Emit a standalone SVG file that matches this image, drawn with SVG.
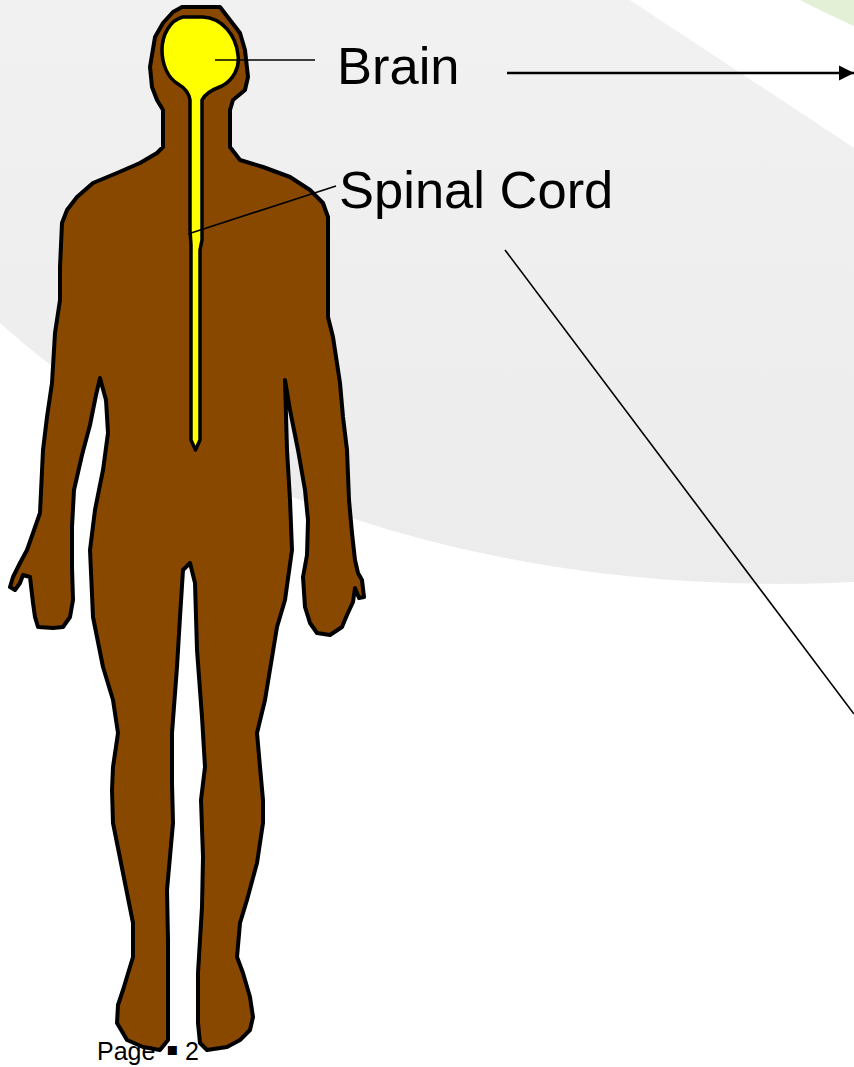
<svg xmlns="http://www.w3.org/2000/svg" width="854" height="1067" viewBox="0 0 854 1067">
  <style>
    .label { font-family: "Liberation Sans", Arial, sans-serif; font-size: 52.5px; fill: #000; }
    .page { font-family: "Liberation Sans", "DejaVu Sans", Arial, sans-serif; font-size: 25px; fill: #000; }
    .lead { stroke: #000; stroke-width: 1.6; fill: none; }
    .outline { stroke: #000; stroke-width: 4; stroke-linejoin: round; }
  </style>
  <defs>
    <linearGradient id="swooshFill" x1="0" y1="0" x2="0" y2="1">
      <stop offset="0" stop-color="#f1f1f1"/>
      <stop offset="1" stop-color="#ececec"/>
    </linearGradient>
    <marker id="arrowHead" viewBox="0 0 10 10" refX="10" refY="5" markerUnits="userSpaceOnUse" markerWidth="15" markerHeight="16" orient="auto">
      <path d="M0,0 L10,5 L0,10 Z" fill="#000"/>
    </marker>
  </defs>

  <!-- slide background -->
  <g id="background">
    <rect width="854" height="1067" fill="#ffffff"/>
    <path d="M0,0 L630,0 C690,40 790,105 854,148 L854,582 C450,602 150,460 0,323 Z" fill="url(#swooshFill)"/>
    <path d="M800,0 L854,0 L854,26 C835,17 815,8 800,0 Z" fill="#e3f0d6"/>
  </g>

  <!-- body silhouette -->
  <g id="body">
    <path class="outline" fill="#884800" d="
      M182,7 L220,7 L230,20 L240,33 L245,50 L248,77 L245,90 L233,100 L230,110 L230,147
      L240,160 L263,167 L290,177 L310,190 L323,203 L328,217 L328,317 L333,337 L340,383
      L343,417 L347,450 L349,500 L352,533 L355,560 L358,573 L362,580 L364,597 L359,598
      L355,588 L353,602 L347,615 L342,627 L330,635 L317,633 L310,623 L305,607 L303,577
      L307,555 L308,520 L305,490 L298,450 L290,410 L285,380
      L287,450 L290,500 L292,550 L285,600 L277,627 L265,700 L257,733 L260,767 L263,800
      L263,823 L257,863 L247,900 L240,923 L237,957 L243,973 L250,997 L253,1017 L250,1030
      L240,1040 L227,1047 L207,1050 L200,1043 L198,1023 L198,973 L200,940 L202,907
      L203,857 L201,800 L205,767 L202,717 L197,650 L195,583 L190,563
      L183,570 L180,617 L177,667 L172,733 L172,783 L173,823 L167,890 L168,940 L168,990
      L168,1040 L160,1050 L143,1047 L127,1040 L117,1023 L118,1005 L123,990 L133,957
      L133,923 L123,873 L113,823 L112,790 L113,767 L118,733 L113,700 L103,667 L93,617
      L90,550 L95,510 L103,470 L108,433 L106,400 L100,378
      L96,395 L90,425 L82,455 L74,490 L72,527 L72,567 L73,600 L70,617 L63,627 L53,628
      L38,627 L35,617 L33,603 L30,577 L23,575 L20,583 L15,590 L10,587 L13,577 L20,563
      L27,550 L33,533 L40,513 L43,450 L47,417 L52,383 L55,333 L60,300 L60,267 L62,223
      L67,210 L77,197 L93,183 L117,173 L140,163 L157,153 L163,147 L163,110 L157,100
      L152,87 L150,67 L155,37 L163,23 L173,12 Z"/>
  </g>

  <!-- brain and spinal cord -->
  <g id="brain-cord">
    <path fill="#ffff00" stroke="#000" stroke-width="3.5" stroke-linejoin="round" d="
      M202,100 C205,93 214,89 222,86 C233,80 240,68 238,55 C236,35 222,18 203,17 L183,17
      C170,20 162,35 162,50 C162,65 168,78 178,84 C185,88 189,93 190,100
      L190,230 L191,245 L191,440 L195.5,450 L200,440 L200,250 L202,240 L202,110 Z"/>
  </g>

  <!-- labels -->
  <g id="label-brain">
    <text class="label" x="337" y="84">Brain</text>
  </g>
  <g id="label-spinal-cord">
    <text class="label" x="339" y="208">Spinal Cord</text>
  </g>
  <g id="page-number">
    <text class="page" y="1060"><tspan x="97">Page</tspan><tspan x="166" y="1055" font-size="18" font-family="DejaVu Sans, sans-serif">▪</tspan><tspan x="185" y="1060">2</tspan></text>
  </g>

  <!-- connectors -->
  <g id="connectors">
    <line class="lead" x1="215" y1="60" x2="315" y2="60"/>
    <line class="lead" x1="188" y1="234" x2="336" y2="186"/>
    <line x1="507" y1="73" x2="854" y2="73" stroke="#000" stroke-width="2.6" marker-end="url(#arrowHead)"/>
    <line class="lead" x1="505" y1="250" x2="854" y2="714"/>
  </g>
</svg>
